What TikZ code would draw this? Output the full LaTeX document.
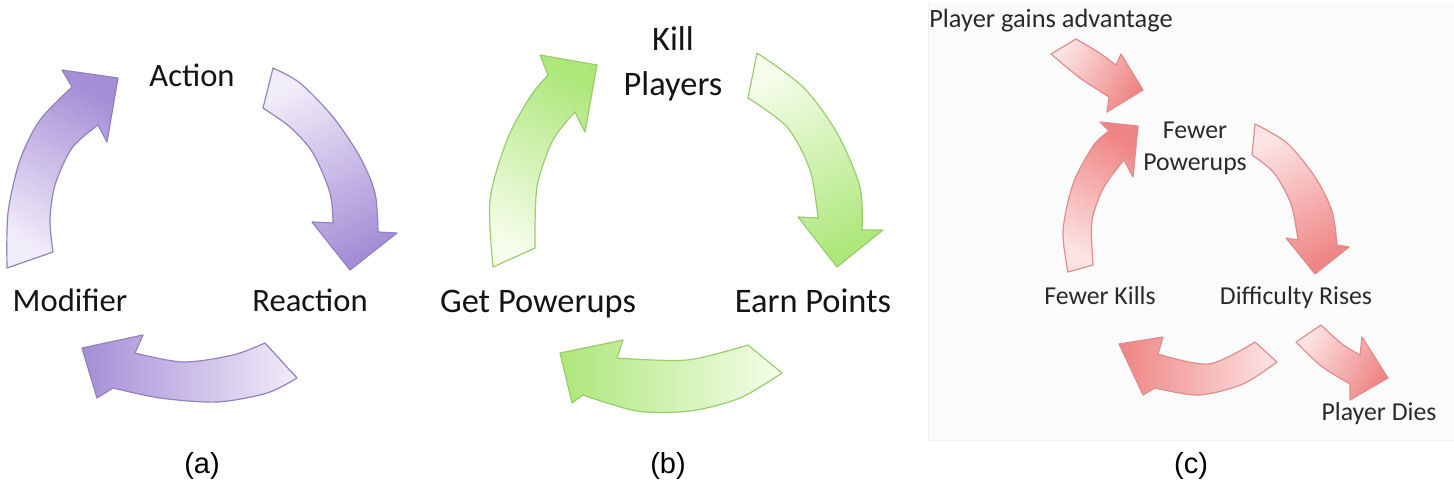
\documentclass[tikz,border=0pt]{standalone}
\usepackage{fontspec}
\setmainfont{Carlito}
\newfontfamily\arialfont{Liberation Sans}
\definecolor{plight}{HTML}{F1ECF9}
\definecolor{pdark}{HTML}{A58ED6}
\definecolor{pline}{HTML}{9482BE}
\definecolor{glight}{HTML}{F5FDEA}
\definecolor{gdark}{HTML}{ADE77A}
\definecolor{gline}{HTML}{9CCB70}
\definecolor{rlight}{HTML}{FCE4E4}
\definecolor{rdark}{HTML}{EF8484}
\definecolor{rline}{HTML}{DE8E8E}
\definecolor{txt}{HTML}{141414}
\definecolor{ctxt}{HTML}{2A2A2A}
\definecolor{cbg}{HTML}{FBFBFB}
\definecolor{cedge}{HTML}{F1F1F1}
\tikzset{
  parrow/.style={draw=pline, line width=0.6pt, line join=round, top color=pdark, bottom color=plight},
  garrow/.style={draw=gline, line width=0.6pt, line join=round, top color=gdark, bottom color=glight},
  rarrow/.style={draw=rline, line width=0.6pt, line join=round, top color=rdark, bottom color=rlight},
  lbl/.style={text=txt, inner sep=0pt, anchor=base},
  biglbl/.style={lbl, font=\fontsize{16.3}{19}\selectfont},
  midlbl/.style={lbl, font=\fontsize{17.2}{20}\selectfont},
  smalllbl/.style={lbl, text=ctxt, font=\fontsize{12.9}{15}\selectfont},
  caplbl/.style={lbl, text=black, font=\arialfont\fontsize{14.5}{17}\selectfont},
}
\begin{document}
\begin{tikzpicture}[x=0.5pt,y=-0.5pt]
\useasboundingbox (0,0) rectangle (1454,487);
\fill[white] (0,0) rectangle (1454,487);
% panel (c) faint background
\fill[cbg] (928,2) rectangle (1454,440);
\draw[cedge, line width=0.4pt] (928,2) -- (928,440) -- (1454,440);

% ---------------- (a) ----------------
\path[parrow, shading angle=-30]
  plot[smooth] coordinates {(7,268) (8,213) (20,160) (40,120) (72,87)}
  -- (62,70) -- (118,78) -- (107,142)
  -- plot[smooth] coordinates {(98,125) (72,148) (55,185) (50,220) (53,252)}
  -- cycle;
\path[parrow, shading angle=-153]
  plot[smooth] coordinates {(273,68) (300,83) (333,117) (360,157) (375,193) (378,232)}
  -- (397,233) -- (350,270) -- (312,222)
  -- plot[smooth] coordinates {(333,223) (330,193) (313,153) (290,127) (263,108)}
  -- cycle;
\path[parrow, shading angle=90]
  plot[smooth] coordinates {(297,378) (267,393) (217,402) (160,398) (113,388)}
  -- (97,398) -- (82,348) -- (143,335)
  -- plot[smooth] coordinates {(135,353) (183,362) (233,355) (265,343)}
  -- cycle;
\node[biglbl] (action) at (192,86.7) {Action};
\node[biglbl] (modifier) at (70,311.7) {Modifier};
\node[biglbl] (reaction) at (310,311.7) {Reaction};
\node[caplbl] (capa) at (202,473) {(a)};

% ---------------- (b) ----------------
\path[garrow, shading angle=-30]
  plot[smooth] coordinates {(493,267) (490,200) (507,140) (530,97) (548,75)}
  -- (540,55) -- (597,65) -- (585,132)
  -- plot[smooth] coordinates {(575,112) (553,140) (537,187) (535,248)}
  -- cycle;
\path[garrow, shading angle=-153]
  plot[smooth] coordinates {(757,53) (803,87) (837,133) (860,187) (862,230)}
  -- (883,230) -- (837,267) -- (798,217)
  -- plot[smooth] coordinates {(818,218) (810,170) (787,127) (748,98)}
  -- cycle;
\path[garrow, shading angle=90]
  plot[smooth] coordinates {(782,373) (740,398) (690,411) (637,411) (583,395)}
  -- (572,403) -- (560,353) -- (623,340)
  -- plot[smooth] coordinates {(617,358) (687,360) (748,345)}
  -- cycle;
\node[midlbl] (kill) at (673,50) {Kill};
\node[midlbl] (players) at (673,95) {Players};
\node[midlbl] (getpow) at (538,312) {Get Powerups};
\node[midlbl] (earn) at (813,312) {Earn Points};
\node[caplbl] (capb) at (668,473) {(b)};

% ---------------- (c) ----------------
\path[rarrow, shading angle=-119]
  plot[smooth] coordinates {(1076,39) (1098,52) (1116,65)}
  -- (1121,54) -- (1143,90) -- (1107,112)
  -- plot[smooth] coordinates {(1109,97) (1080,78) (1051,54)}
  -- cycle;
\path[rarrow, shading angle=-30]
  plot[smooth] coordinates {(1068,272) (1063,231) (1073,184) (1093,146) (1109,131)}
  -- (1100,122) -- (1138,126) -- (1133,177)
  -- plot[smooth] coordinates {(1124,160) (1104,187) (1092,221) (1093,265)}
  -- cycle;
\path[rarrow, shading angle=-153]
  plot[smooth] coordinates {(1255,124) (1287,143) (1315,177) (1332,211) (1337,245)}
  -- (1349,247) -- (1315,274) -- (1286,238)
  -- plot[smooth] coordinates {(1298,240) (1291,204) (1274,173) (1252,155)}
  -- cycle;
\path[rarrow, shading angle=90]
  plot[smooth] coordinates {(1277,362) (1243,384) (1199,395) (1155,388)}
  -- (1143,395) -- (1119,344) -- (1163,337)
  -- plot[smooth] coordinates {(1158,354) (1209,364) (1255,342)}
  -- cycle;
\path[rarrow, shading angle=-119]
  plot[smooth] coordinates {(1321,325) (1342,344) (1360,355)}
  -- (1362,337) -- (1388,378) -- (1350,400)
  -- plot[smooth] coordinates {(1350,384) (1321,366) (1296,342)}
  -- cycle;
\node[smalllbl, font=\fontsize{13.2}{15}\selectfont] (gains) at (1051,27) {Player gains advantage};
\node[smalllbl] (fewer) at (1195,138) {Fewer};
\node[smalllbl] (fpow) at (1195,170) {Powerups};
\node[smalllbl] (fkills) at (1100,304) {Fewer Kills};
\node[smalllbl] (diff) at (1296,304) {Difficulty Rises};
\node[smalllbl] (dies) at (1379,420) {Player Dies};
\node[caplbl] (capc) at (1191,473) {(c)};
\end{tikzpicture}
\end{document}
